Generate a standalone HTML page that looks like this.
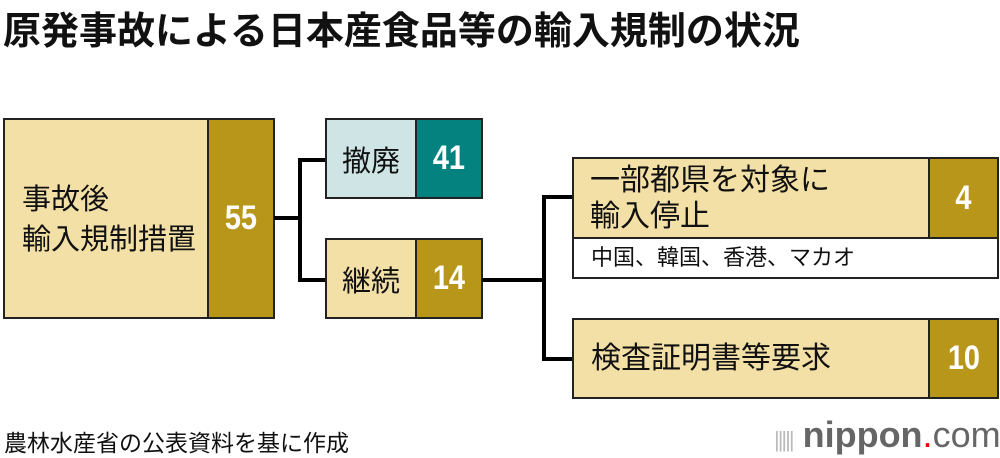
<!DOCTYPE html>
<html><head><meta charset="utf-8"><style>
body{margin:0;width:1000px;height:456px;background:#fff;position:relative;overflow:hidden;font-family:"Liberation Sans","Noto Sans CJK JP",sans-serif;}
.a{position:absolute;box-sizing:border-box;}
.b{border:2px solid #222;}
.t{font-size:29px;color:#111;}
.n{color:#fff;font-weight:bold;font-size:34px;display:flex;align-items:center;justify-content:center;font-family:"Liberation Sans Narrow","Liberation Sans",sans-serif;}
.n span{display:inline-block;transform:scaleX(0.85);}
.l{position:absolute;background:#000;}
</style></head><body>
<div class="a" style="left:3px;top:0px;font-size:38px;font-weight:bold;color:#111;white-space:nowrap;">原発事故による日本産食品等の輸入規制の状況</div>

<div class="a b" style="left:3px;top:118px;width:206px;height:201px;background:#f3e0a6;"></div>
<div class="a t" style="left:22px;top:180px;line-height:40px;">事故後<br>輸入規制措置</div>
<div class="a b n" style="left:207px;top:118px;width:68px;height:201px;background:#b8961a;"><span>55</span></div>

<div class="l" style="left:274px;top:216px;width:28px;height:4px"></div>
<div class="l" style="left:298px;top:158px;width:4px;height:124px"></div>
<div class="l" style="left:298px;top:158px;width:28px;height:4px"></div>
<div class="l" style="left:298px;top:278px;width:28px;height:4px"></div>

<div class="a b t" style="left:325px;top:118px;width:92px;height:81px;background:#cfe5e5;display:flex;align-items:center;justify-content:center;">撤廃</div>
<div class="a b n" style="left:415px;top:118px;width:68px;height:81px;background:#04827f;"><span>41</span></div>
<div class="a b t" style="left:325px;top:238px;width:92px;height:81px;background:#f3e0a6;display:flex;align-items:center;justify-content:center;">継続</div>
<div class="a b n" style="left:415px;top:238px;width:68px;height:81px;background:#b8961a;"><span>14</span></div>

<div class="l" style="left:482px;top:278px;width:64px;height:4px"></div>
<div class="l" style="left:542px;top:195px;width:4px;height:166px"></div>
<div class="l" style="left:542px;top:195px;width:32px;height:4px"></div>
<div class="l" style="left:542px;top:357px;width:32px;height:4px"></div>

<div class="a b" style="left:572px;top:157px;width:358px;height:82px;background:#f3e0a6;"></div>
<div class="a t" style="left:590px;top:163px;line-height:36px;font-size:30px;">一部都県を対象に<br>輸入停止</div>
<div class="a b n" style="left:928px;top:157px;width:71px;height:82px;background:#b8961a;"><span>4</span></div>
<div class="a b" style="left:572px;top:237px;width:427px;height:42px;background:#fff;font-size:22px;padding-left:17px;line-height:38px;color:#111;">中国、韓国、香港、マカオ</div>

<div class="a b t" style="left:572px;top:318px;width:358px;height:81px;background:#f3e0a6;padding-left:17px;line-height:77px;font-size:30px;">検査証明書等要求</div>
<div class="a b n" style="left:928px;top:318px;width:71px;height:81px;background:#b8961a;"><span>10</span></div>

<div class="a" style="left:4px;top:424px;font-size:23px;color:#111;white-space:nowrap;">農林水産省の公表資料を基に作成</div>
<div class="a" style="left:774px;top:414px;font-size:36px;color:#666;white-space:nowrap;"><span style="font-size:22px;color:#bbb;letter-spacing:-2px;">|||||</span> <b>nippon</b><span style="color:#e00">.</span>com</div>
</body></html>
